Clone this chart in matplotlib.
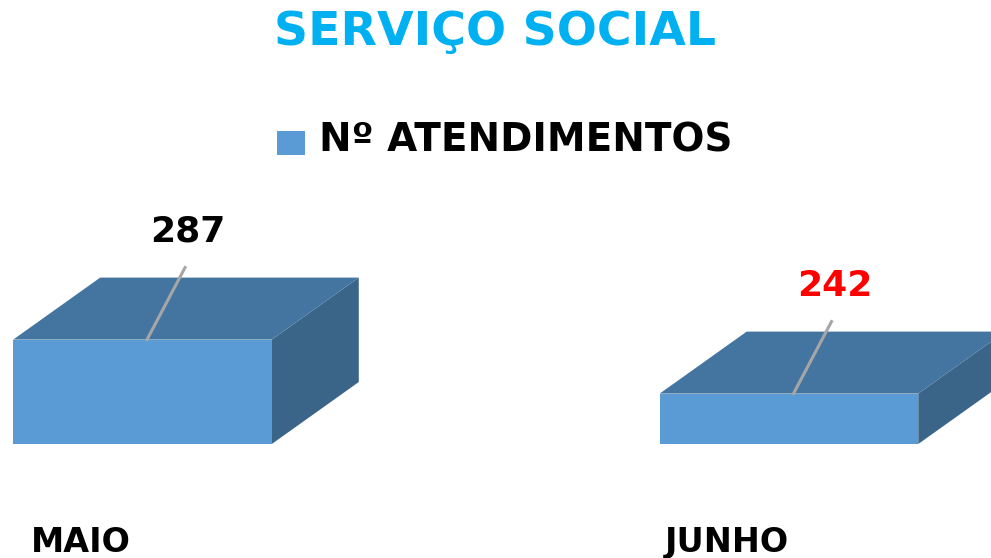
import matplotlib
matplotlib.use("Agg")
import matplotlib.pyplot as plt
from matplotlib.patches import Polygon
import numpy as np

# data
months = ["MAIO", "JUNHO"]
atendimentos = [287, 242]
label_colors = ["black", "red"]
series_name = "Nº ATENDIMENTOS"
title = "SERVIÇO SOCIAL"

front_c = "#5B9BD5"
top_c = "#4475A1"
side_c = "#3A6488"

fig = plt.figure(figsize=(9.91, 5.58), dpi=100)
ax = fig.add_axes([0, 0, 1, 1])
ax.set_xlim(-0.2204, 1.3125)
ax.set_ylim(105, 570)
ax.axis("off")

width = 0.4
base = 200
depth = np.array([87, 62])  # pixels, back face offset

to_disp = ax.transData.transform
to_data = ax.transData.inverted().transform

def back(pt):
    return to_data(to_disp(pt) + depth)

for i, v in enumerate(atendimentos):
    x0, x1 = i - width / 2, i + width / 2
    fl, fr = (x0, v), (x1, v)
    bl, br = (x0, base), (x1, base)
    # side
    ax.add_patch(Polygon([br, fr, back(fr), back(br)], closed=True,
                         facecolor=side_c, edgecolor="none"))
    # top
    ax.add_patch(Polygon([fl, fr, back(fr), back(fl)], closed=True,
                         facecolor=top_c, edgecolor="none"))
    # front
    ax.add_patch(Polygon([bl, br, fr, fl], closed=True,
                         facecolor=front_c, edgecolor="none"))
    # leader line + value label
    p0 = to_disp((i + 0.007, v))
    p1 = p0 + np.array([38, 72])
    a, b = to_data(p0), to_data(p1)
    ax.plot([a[0], b[0]], [a[1], b[1]], color="#A6A6A6", lw=2.2)
    lab = to_data(p1 + np.array([3, 36]))
    ax.text(lab[0], lab[1], str(v), ha="center", va="center",
            fontsize=26, fontweight="bold", color=label_colors[i])
    # category label
    ax.text(i - 0.096, 104, months[i], ha="center", va="bottom",
            fontsize=24, fontweight="bold")

fig.text(0.5, 1 - 32 / 558, title, ha="center", va="center",
         fontsize=34, fontweight="bold", color="#00B0F0")

# legend
fig.patches.append(plt.Rectangle((277 / 991, 1 - 155 / 558), 28 / 991, 24 / 558,
                                 transform=fig.transFigure, facecolor=front_c,
                                 edgecolor="none"))
fig.text(319 / 991, 1 - 141 / 558, series_name, ha="left", va="center",
         fontsize=28, fontweight="bold", color="black")

fig.savefig("out.png", dpi=100)
